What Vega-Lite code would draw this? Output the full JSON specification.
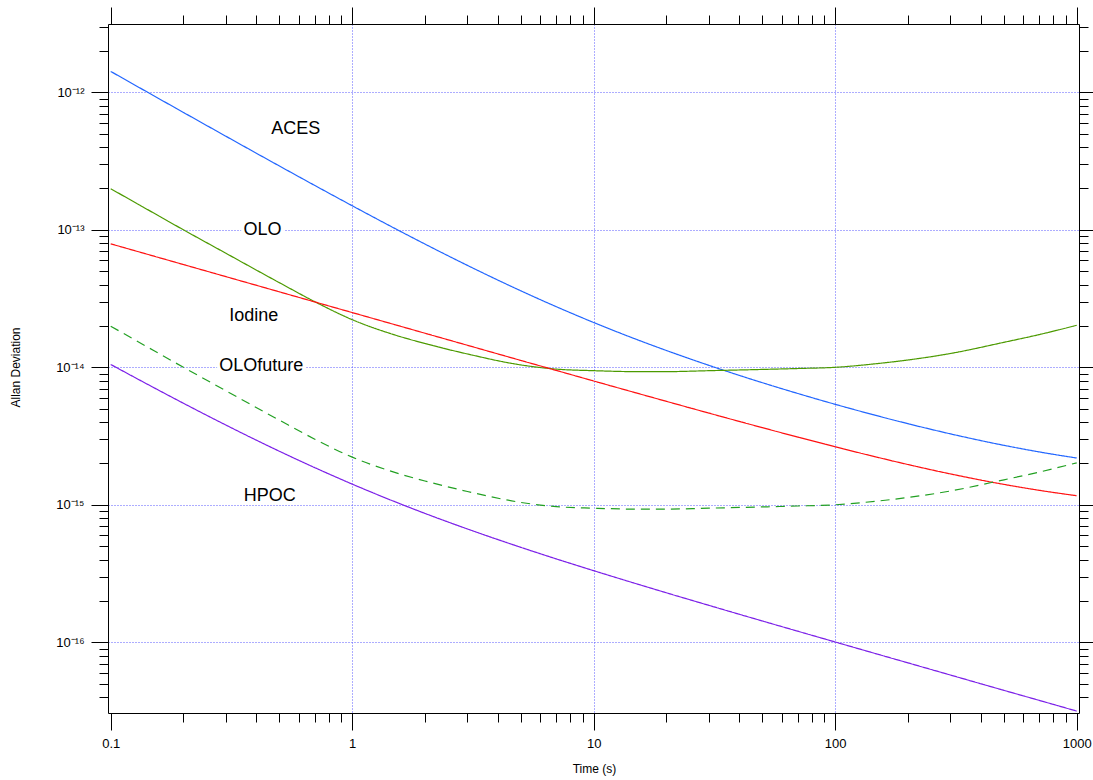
{
  "$schema": "https://vega.github.io/schema/vega-lite/v6.json",
  "width": 971,
  "height": 689,
  "autosize": {"type": "none"},
  "padding": {"left": 108, "top": 24, "right": 14, "bottom": 67},
  "background": "white",
  "config": {"view": {"stroke": null}, "font": "Liberation Sans"},
  "datasets": {
    "curves": [
      {"series": "ACES", "tau": 0.1, "adev": 1.419e-12},
      {"series": "ACES", "tau": 0.15, "adev": 9.49e-13},
      {"series": "ACES", "tau": 0.2, "adev": 7.14e-13},
      {"series": "ACES", "tau": 0.3, "adev": 4.79e-13},
      {"series": "ACES", "tau": 0.5, "adev": 2.908e-13},
      {"series": "ACES", "tau": 0.7, "adev": 2.101e-13},
      {"series": "ACES", "tau": 1, "adev": 1.496e-13},
      {"series": "ACES", "tau": 1.5, "adev": 1.024e-13},
      {"series": "ACES", "tau": 2, "adev": 7.88e-14},
      {"series": "ACES", "tau": 3, "adev": 5.51e-14},
      {"series": "ACES", "tau": 5, "adev": 3.595e-14},
      {"series": "ACES", "tau": 7, "adev": 2.759e-14},
      {"series": "ACES", "tau": 10, "adev": 2.117e-14},
      {"series": "ACES", "tau": 15, "adev": 1.598e-14},
      {"series": "ACES", "tau": 20, "adev": 1.325e-14},
      {"series": "ACES", "tau": 30, "adev": 1.033e-14},
      {"series": "ACES", "tau": 50, "adev": 7.72e-15},
      {"series": "ACES", "tau": 70, "adev": 6.45e-15},
      {"series": "ACES", "tau": 100, "adev": 5.38e-15},
      {"series": "ACES", "tau": 150, "adev": 4.43e-15},
      {"series": "ACES", "tau": 200, "adev": 3.89e-15},
      {"series": "ACES", "tau": 300, "adev": 3.28e-15},
      {"series": "ACES", "tau": 500, "adev": 2.706e-15},
      {"series": "ACES", "tau": 700, "adev": 2.423e-15},
      {"series": "ACES", "tau": 1000, "adev": 2.189e-15},

      {"series": "OLO", "tau": 0.1, "adev": 1.99e-13},
      {"series": "OLO", "tau": 0.15, "adev": 1.33e-13},
      {"series": "OLO", "tau": 0.2, "adev": 1.0e-13},
      {"series": "OLO", "tau": 0.3, "adev": 6.75e-14},
      {"series": "OLO", "tau": 0.5, "adev": 4.12e-14},
      {"series": "OLO", "tau": 0.7, "adev": 3.0e-14},
      {"series": "OLO", "tau": 1, "adev": 2.22e-14},
      {"series": "OLO", "tau": 1.5, "adev": 1.72e-14},
      {"series": "OLO", "tau": 2, "adev": 1.49e-14},
      {"series": "OLO", "tau": 3, "adev": 1.25e-14},
      {"series": "OLO", "tau": 5, "adev": 1.04e-14},
      {"series": "OLO", "tau": 7, "adev": 9.7e-15},
      {"series": "OLO", "tau": 10, "adev": 9.45e-15},
      {"series": "OLO", "tau": 15, "adev": 9.3e-15},
      {"series": "OLO", "tau": 20, "adev": 9.3e-15},
      {"series": "OLO", "tau": 30, "adev": 9.45e-15},
      {"series": "OLO", "tau": 50, "adev": 9.65e-15},
      {"series": "OLO", "tau": 70, "adev": 9.8e-15},
      {"series": "OLO", "tau": 100, "adev": 1.0e-14},
      {"series": "OLO", "tau": 150, "adev": 1.065e-14},
      {"series": "OLO", "tau": 200, "adev": 1.13e-14},
      {"series": "OLO", "tau": 300, "adev": 1.26e-14},
      {"series": "OLO", "tau": 500, "adev": 1.52e-14},
      {"series": "OLO", "tau": 700, "adev": 1.73e-14},
      {"series": "OLO", "tau": 1000, "adev": 2.02e-14},

      {"series": "Iodine", "tau": 0.1, "adev": 7.906e-14},
      {"series": "Iodine", "tau": 0.15, "adev": 6.455e-14},
      {"series": "Iodine", "tau": 0.2, "adev": 5.59e-14},
      {"series": "Iodine", "tau": 0.3, "adev": 4.564e-14},
      {"series": "Iodine", "tau": 0.5, "adev": 3.536e-14},
      {"series": "Iodine", "tau": 0.7, "adev": 2.988e-14},
      {"series": "Iodine", "tau": 1, "adev": 2.501e-14},
      {"series": "Iodine", "tau": 1.5, "adev": 2.043e-14},
      {"series": "Iodine", "tau": 2, "adev": 1.77e-14},
      {"series": "Iodine", "tau": 3, "adev": 1.446e-14},
      {"series": "Iodine", "tau": 5, "adev": 1.121e-14},
      {"series": "Iodine", "tau": 7, "adev": 9.49e-15},
      {"series": "Iodine", "tau": 10, "adev": 7.95e-15},
      {"series": "Iodine", "tau": 15, "adev": 6.51e-15},
      {"series": "Iodine", "tau": 20, "adev": 5.655e-15},
      {"series": "Iodine", "tau": 30, "adev": 4.643e-15},
      {"series": "Iodine", "tau": 50, "adev": 3.637e-15},
      {"series": "Iodine", "tau": 70, "adev": 3.108e-15},
      {"series": "Iodine", "tau": 100, "adev": 2.642e-15},
      {"series": "Iodine", "tau": 150, "adev": 2.213e-15},
      {"series": "Iodine", "tau": 200, "adev": 1.963e-15},
      {"series": "Iodine", "tau": 300, "adev": 1.677e-15},
      {"series": "Iodine", "tau": 500, "adev": 1.407e-15},
      {"series": "Iodine", "tau": 700, "adev": 1.274e-15},
      {"series": "Iodine", "tau": 1000, "adev": 1.164e-15},

      {"series": "OLOfuture", "tau": 0.1, "adev": 1.99e-14},
      {"series": "OLOfuture", "tau": 0.15, "adev": 1.33e-14},
      {"series": "OLOfuture", "tau": 0.2, "adev": 1.0e-14},
      {"series": "OLOfuture", "tau": 0.3, "adev": 6.75e-15},
      {"series": "OLOfuture", "tau": 0.5, "adev": 4.12e-15},
      {"series": "OLOfuture", "tau": 0.7, "adev": 3.0e-15},
      {"series": "OLOfuture", "tau": 1, "adev": 2.22e-15},
      {"series": "OLOfuture", "tau": 1.5, "adev": 1.72e-15},
      {"series": "OLOfuture", "tau": 2, "adev": 1.49e-15},
      {"series": "OLOfuture", "tau": 3, "adev": 1.25e-15},
      {"series": "OLOfuture", "tau": 5, "adev": 1.04e-15},
      {"series": "OLOfuture", "tau": 7, "adev": 9.7e-16},
      {"series": "OLOfuture", "tau": 10, "adev": 9.45e-16},
      {"series": "OLOfuture", "tau": 15, "adev": 9.3e-16},
      {"series": "OLOfuture", "tau": 20, "adev": 9.3e-16},
      {"series": "OLOfuture", "tau": 30, "adev": 9.45e-16},
      {"series": "OLOfuture", "tau": 50, "adev": 9.65e-16},
      {"series": "OLOfuture", "tau": 70, "adev": 9.8e-16},
      {"series": "OLOfuture", "tau": 100, "adev": 1.0e-15},
      {"series": "OLOfuture", "tau": 150, "adev": 1.065e-15},
      {"series": "OLOfuture", "tau": 200, "adev": 1.13e-15},
      {"series": "OLOfuture", "tau": 300, "adev": 1.26e-15},
      {"series": "OLOfuture", "tau": 500, "adev": 1.52e-15},
      {"series": "OLOfuture", "tau": 700, "adev": 1.73e-15},
      {"series": "OLOfuture", "tau": 1000, "adev": 2.02e-15},

      {"series": "HPOC", "tau": 0.1, "adev": 1.049e-14},
      {"series": "HPOC", "tau": 0.15, "adev": 7.15e-15},
      {"series": "HPOC", "tau": 0.2, "adev": 5.477e-15},
      {"series": "HPOC", "tau": 0.3, "adev": 3.8e-15},
      {"series": "HPOC", "tau": 0.5, "adev": 2.449e-15},
      {"series": "HPOC", "tau": 0.7, "adev": 1.863e-15},
      {"series": "HPOC", "tau": 1, "adev": 1.414e-15},
      {"series": "HPOC", "tau": 1.5, "adev": 1.054e-15},
      {"series": "HPOC", "tau": 2, "adev": 8.66e-16},
      {"series": "HPOC", "tau": 3, "adev": 6.67e-16},
      {"series": "HPOC", "tau": 5, "adev": 4.9e-16},
      {"series": "HPOC", "tau": 7, "adev": 4.04e-16},
      {"series": "HPOC", "tau": 10, "adev": 3.317e-16},
      {"series": "HPOC", "tau": 15, "adev": 2.667e-16},
      {"series": "HPOC", "tau": 20, "adev": 2.291e-16},
      {"series": "HPOC", "tau": 30, "adev": 1.856e-16},
      {"series": "HPOC", "tau": 50, "adev": 1.428e-16},
      {"series": "HPOC", "tau": 70, "adev": 1.204e-16},
      {"series": "HPOC", "tau": 100, "adev": 1.005e-16},
      {"series": "HPOC", "tau": 150, "adev": 8.19e-17},
      {"series": "HPOC", "tau": 200, "adev": 7.09e-17},
      {"series": "HPOC", "tau": 300, "adev": 5.78e-17},
      {"series": "HPOC", "tau": 500, "adev": 4.47e-17},
      {"series": "HPOC", "tau": 700, "adev": 3.78e-17},
      {"series": "HPOC", "tau": 1000, "adev": 3.16e-17}
    ],
    "labels": [
      {"name": "ACES", "tau": 0.5835, "adev": 5.38e-13},
      {"name": "OLO", "tau": 0.4253, "adev": 1.0e-13},
      {"name": "Iodine", "tau": 0.3914, "adev": 2.38e-14},
      {"name": "OLOfuture", "tau": 0.4201, "adev": 1.03e-14},
      {"name": "HPOC", "tau": 0.4554, "adev": 1.153e-15}
    ]
  },
  "resolve": {"axis": {"x": "independent", "y": "independent"}},
  "layer": [
    {
      "data": {"name": "curves"},
      "mark": {"type": "line", "interpolate": "monotone", "strokeWidth": 1.2, "clip": true},
      "encoding": {
        "x": {
          "field": "tau", "type": "quantitative",
          "scale": {"type": "log", "domain": [0.09746, 1022.2], "nice": false},
          "axis": {
            "orient": "bottom",
            "values": [0.1, 0.2, 0.3, 0.4, 0.5, 0.6, 0.7, 0.8, 0.9, 1, 2, 3, 4, 5, 6, 7, 8, 9, 10, 20, 30, 40, 50, 60, 70, 80, 90, 100, 200, 300, 400, 500, 600, 700, 800, 900, 1000],
            "tickSize": 17, "tickColor": "black", "tickWidth": 1,
            "tickDash": {"condition": {"test": "abs(log(datum.value)/LN10 - round(log(datum.value)/LN10)) > 0.01", "value": [9, 40]}, "value": []},
            "domainColor": "black", "domainWidth": 1,
            "grid": true, "gridColor": "#5a5aff", "gridDash": [1, 2], "gridWidth": 1,
            "gridOpacity": {"condition": {"test": "datum.value < 0.5 || datum.value > 500 || abs(log(datum.value)/LN10 - round(log(datum.value)/LN10)) > 0.01", "value": 0}, "value": 1},
            "labelExpr": "abs(log(datum.value)/LN10 - round(log(datum.value)/LN10)) > 0.01 ? '' : '' + datum.value",
            "labelFont": "Liberation Sans", "labelFontSize": 13, "labelColor": "black",
            "labelPadding": 7, "labelFlush": false, "labelOverlap": false, "labelBound": false,
            "title": "Time (s)", "titleFont": "Liberation Sans", "titleFontSize": 12, "titleFontWeight": "normal", "titleColor": "black",
            "titleX": 486, "titleY": 55, "titleBaseline": "middle", "titleAlign": "center"
          }
        },
        "y": {
          "field": "adev", "type": "quantitative",
          "scale": {"type": "log", "domain": [3.06e-17, 3.139e-12], "nice": false},
          "axis": {
            "orient": "left",
            "values": [4e-17, 5e-17, 6e-17, 7e-17, 8e-17, 9e-17, 1e-16, 2e-16, 3e-16, 4e-16, 5e-16, 6e-16, 7e-16, 8e-16, 9e-16, 1e-15, 2e-15, 3e-15, 4e-15, 5e-15, 6e-15, 7e-15, 8e-15, 9e-15, 1e-14, 2e-14, 3e-14, 4e-14, 5e-14, 6e-14, 7e-14, 8e-14, 9e-14, 1e-13, 2e-13, 3e-13, 4e-13, 5e-13, 6e-13, 7e-13, 8e-13, 9e-13, 1e-12, 2e-12, 3e-12],
            "tickSize": 17, "tickColor": "black", "tickWidth": 1,
            "tickDash": {"condition": {"test": "abs(log(datum.value)/LN10 - round(log(datum.value)/LN10)) > 0.01", "value": [9, 40]}, "value": []},
            "domainColor": "black", "domainWidth": 1,
            "grid": true, "gridColor": "#5a5aff", "gridDash": [1, 2], "gridWidth": 1,
            "gridOpacity": {"condition": {"test": "abs(log(datum.value)/LN10 - round(log(datum.value)/LN10)) > 0.01", "value": 0}, "value": 1},
            "labelExpr": "abs(log(datum.value)/LN10 - round(log(datum.value)/LN10)) > 0.01 ? '' : '10⁻¹' + ['⁰','¹','²','³','⁴','⁵','⁶','⁷','⁸','⁹'][abs(round(log(datum.value)/LN10)) - 10]",
            "labelFont": "Liberation Sans", "labelFontSize": 13, "labelColor": "black",
            "labelPadding": 7, "labelFlush": false, "labelOverlap": false, "labelBound": false,
            "title": "Allan Deviation", "titleFont": "Liberation Sans", "titleFontSize": 12, "titleFontWeight": "normal", "titleColor": "black",
            "titleX": -93, "titleY": 343, "titleAngle": -90, "titleBaseline": "middle", "titleAlign": "center"
          }
        },
        "color": {
          "field": "series", "type": "nominal",
          "scale": {"domain": ["ACES", "OLO", "Iodine", "OLOfuture", "HPOC"], "range": ["#2266ff", "#4c9a00", "#ff1010", "#22a022", "#7b1fe8"]},
          "legend": null
        },
        "strokeDash": {
          "field": "series", "type": "nominal",
          "scale": {"domain": ["ACES", "OLO", "Iodine", "OLOfuture", "HPOC"], "range": [[1, 0], [1, 0], [1, 0], [9, 6], [1, 0]]},
          "legend": null
        }
      }
    },
    {
      "data": {"name": "labels"},
      "mark": {"type": "text", "font": "Liberation Sans", "fontSize": 18, "align": "center", "baseline": "middle", "fill": "white", "stroke": "white", "strokeWidth": 7, "strokeJoin": "round"},
      "encoding": {
        "x": {
          "field": "tau", "type": "quantitative",
          "scale": {"type": "log", "domain": [0.09746, 1022.2], "nice": false},
          "axis": {
            "orient": "top",
            "values": [0.1, 0.2, 0.3, 0.4, 0.5, 0.6, 0.7, 0.8, 0.9, 1, 2, 3, 4, 5, 6, 7, 8, 9, 10, 20, 30, 40, 50, 60, 70, 80, 90, 100, 200, 300, 400, 500, 600, 700, 800, 900, 1000],
            "tickSize": 17, "tickColor": "black", "tickWidth": 1,
            "tickDash": {"condition": {"test": "abs(log(datum.value)/LN10 - round(log(datum.value)/LN10)) > 0.01", "value": [9, 40]}, "value": []},
            "domainColor": "black", "domainWidth": 1,
            "grid": false, "labels": false, "title": null
          }
        },
        "y": {
          "field": "adev", "type": "quantitative",
          "scale": {"type": "log", "domain": [3.06e-17, 3.139e-12], "nice": false},
          "axis": {
            "orient": "right",
            "values": [4e-17, 5e-17, 6e-17, 7e-17, 8e-17, 9e-17, 1e-16, 2e-16, 3e-16, 4e-16, 5e-16, 6e-16, 7e-16, 8e-16, 9e-16, 1e-15, 2e-15, 3e-15, 4e-15, 5e-15, 6e-15, 7e-15, 8e-15, 9e-15, 1e-14, 2e-14, 3e-14, 4e-14, 5e-14, 6e-14, 7e-14, 8e-14, 9e-14, 1e-13, 2e-13, 3e-13, 4e-13, 5e-13, 6e-13, 7e-13, 8e-13, 9e-13, 1e-12, 2e-12, 3e-12],
            "tickSize": 17, "tickColor": "black", "tickWidth": 1,
            "tickDash": {"condition": {"test": "abs(log(datum.value)/LN10 - round(log(datum.value)/LN10)) > 0.01", "value": [9, 40]}, "value": []},
            "domainColor": "black", "domainWidth": 1,
            "grid": false, "labels": false, "title": null
          }
        },
        "text": {"field": "name", "type": "nominal"}
      }
    },
    {
      "data": {"name": "labels"},
      "mark": {"type": "text", "font": "Liberation Sans", "fontSize": 18, "align": "center", "baseline": "middle", "fill": "black"},
      "encoding": {
        "x": {"field": "tau", "type": "quantitative", "scale": {"type": "log", "domain": [0.09746, 1022.2], "nice": false}, "axis": null},
        "y": {"field": "adev", "type": "quantitative", "scale": {"type": "log", "domain": [3.06e-17, 3.139e-12], "nice": false}, "axis": null},
        "text": {"field": "name", "type": "nominal"}
      }
    }
  ]
}
